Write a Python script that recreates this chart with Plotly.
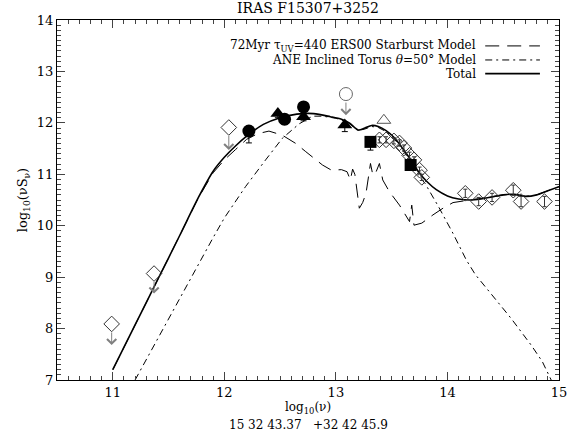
import plotly.graph_objects as go

# ---------------- data ----------------
total_x = [11.0, 11.2, 11.4, 11.6, 11.77, 11.9, 12.0, 12.1, 12.2, 12.35, 12.5, 12.65, 12.8,
           12.95, 13.05, 13.12, 13.2, 13.26, 13.32, 13.38, 13.45, 13.52, 13.6, 13.68, 13.75,
           13.82, 13.9, 14.0, 14.1, 14.2, 14.3, 14.4, 14.5, 14.6, 14.7, 14.8, 14.9, 15.0]
total_y = [7.2, 8.07, 8.94, 9.81, 10.56, 11.06, 11.33, 11.55, 11.74, 11.97, 12.1, 12.17, 12.18,
           12.12, 12.07, 12.0, 11.86, 11.9, 11.95, 11.93, 11.85, 11.72, 11.5, 11.25, 11.02,
           10.85, 10.7, 10.58, 10.52, 10.5, 10.52, 10.56, 10.6, 10.61, 10.57, 10.6, 10.68, 10.76]

sb_x = [11.0, 11.2, 11.4, 11.6, 11.77, 11.9, 12.0, 12.1, 12.2, 12.3, 12.4, 12.52, 12.64, 12.73,
        12.8, 12.88, 12.96, 13.05, 13.1, 13.13, 13.15, 13.17, 13.21, 13.24, 13.27, 13.31, 13.33,
        13.35, 13.39, 13.42, 13.48, 13.57, 13.66, 13.68, 13.70, 13.77, 13.87, 13.96, 14.05, 14.2,
        14.3, 14.4, 14.5, 14.6, 14.7, 14.8, 14.9, 15.0]
sb_y = [7.2, 8.07, 8.94, 9.81, 10.55, 11.03, 11.28, 11.48, 11.68, 11.79, 11.84, 11.76, 11.6, 11.44,
        11.32, 11.18, 11.08, 11.09, 11.05, 10.89, 11.1, 11.0, 10.34, 10.45, 10.63, 11.21, 11.0,
        10.99, 11.21, 10.89, 10.66, 10.4, 10.08, 10.4, 10.01, 10.05, 10.21, 10.34, 10.45, 10.5,
        10.52, 10.56, 10.6, 10.61, 10.57, 10.6, 10.68, 10.76]

torus_x = [11.2, 11.4, 11.6, 11.77, 11.9, 12.0, 12.19, 12.37, 12.52, 12.67, 12.79, 12.88, 13.0,
           13.1, 13.2, 13.26, 13.32, 13.38, 13.45, 13.52, 13.6, 13.68, 13.75, 13.8, 13.92, 14.05,
           14.17, 14.25, 14.4, 14.57, 14.75, 14.85, 14.93]
torus_y = [7.0, 7.8, 8.6, 9.27, 9.77, 10.15, 10.76, 11.28, 11.7, 11.98, 12.13, 12.13, 12.09,
           12.02, 11.85, 11.88, 11.93, 11.91, 11.83, 11.7, 11.47, 11.2, 10.95, 10.82, 10.37, 9.85,
           9.33, 9.05, 8.65, 8.2, 7.68, 7.36, 7.0]

circ_x = [12.22, 12.54, 12.71]
circ_y = [11.84, 12.07, 12.31]
circ_err = [0.23, 0.1, 0.1]

tri_x = [12.48, 12.71, 13.08]
tri_y = [12.18, 12.12, 11.96]
tri_err = [0.08, 0.08, 0.13]

sq_x = [13.31, 13.67]
sq_y = [11.63, 11.18]
sq_err = [0.16, 0.1]

otri_x = [13.43]
otri_y = [12.05]

dia_x = [13.39, 13.45, 13.52, 13.57, 13.61, 13.66, 13.70, 13.75, 13.77,
         14.16, 14.28, 14.40, 14.59, 14.66, 14.87]
dia_y = [11.67, 11.67, 11.65, 11.61, 11.51, 11.37, 11.28, 11.08, 10.94,
         10.63, 10.47, 10.55, 10.69, 10.47, 10.47]
dia_err = [0.06] * 9 + [0.08, 0.08, 0.08, 0.1, 0.1, 0.1]

ul_dia_x = [10.99, 11.37, 12.04]
ul_dia_y = [8.09, 9.07, 11.91]
ul_dia_to = [7.68, 8.68, 11.47]

ul_circ_x = [13.09]
ul_circ_y = [12.56]
ul_circ_to = [12.15]

x_ticks = [11, 12, 13, 14, 15]
y_ticks = [7, 8, 9, 10, 11, 12, 13, 14]

legend_labels = ["72Myr \u03c4<sub>UV</sub>=440 ERS00 Starburst Model",
                 "ANE Inclined Torus <i>\u03b8</i>=50\u00b0 Model",
                 "Total"]

FONT = "DejaVu Serif"

fig = go.Figure()

fig.add_trace(go.Scatter(x=sb_x, y=sb_y, mode="lines",
                         line=dict(color="black", width=1, dash="14px,8px"),
                         showlegend=False))
fig.add_trace(go.Scatter(x=torus_x, y=torus_y, mode="lines",
                         line=dict(color="black", width=1, dash="7px,4px,2px,4px"),
                         showlegend=False))
fig.add_trace(go.Scatter(x=total_x, y=total_y, mode="lines", line_shape="spline",
                         line=dict(color="black", width=1.6, smoothing=0.8), showlegend=False))

# open diamonds detections
fig.add_trace(go.Scatter(x=dia_x, y=dia_y, mode="markers",
                         marker=dict(symbol="diamond-open", size=12, color="#333333",
                                     line=dict(width=1)),
                         error_y=dict(type="data", array=dia_err, color="#333333",
                                      thickness=1, width=2),
                         showlegend=False))
# open triangles
fig.add_trace(go.Scatter(x=otri_x, y=otri_y, mode="markers",
                         marker=dict(symbol="triangle-up-open", size=12, color="#555555"),
                         showlegend=False))
# upper limit symbols
fig.add_trace(go.Scatter(x=ul_dia_x, y=ul_dia_y, mode="markers",
                         marker=dict(symbol="diamond-open", size=12, color="#333333"),
                         showlegend=False))
fig.add_trace(go.Scatter(x=ul_circ_x, y=ul_circ_y, mode="markers",
                         marker=dict(symbol="circle-open", size=13, color="#666666"),
                         showlegend=False))
# filled symbols
fig.add_trace(go.Scatter(x=sq_x, y=sq_y, mode="markers",
                         marker=dict(symbol="square", size=12, color="black"),
                         error_y=dict(type="data", symmetric=False, array=[0, 0],
                                      arrayminus=sq_err, color="black", thickness=1, width=3),
                         showlegend=False))
fig.add_trace(go.Scatter(x=tri_x, y=tri_y, mode="markers",
                         marker=dict(symbol="triangle-up", size=13, color="black"),
                         error_y=dict(type="data", symmetric=False, array=[0, 0, 0],
                                      arrayminus=tri_err, color="black", thickness=1, width=3),
                         showlegend=False))
fig.add_trace(go.Scatter(x=circ_x, y=circ_y, mode="markers",
                         marker=dict(symbol="circle", size=13, color="black"),
                         error_y=dict(type="data", symmetric=False, array=[0, 0, 0],
                                      arrayminus=circ_err, color="black", thickness=1, width=3),
                         showlegend=False))

annotations = []
for xs, ys, ts in ((ul_dia_x, ul_dia_y, ul_dia_to), (ul_circ_x, ul_circ_y, ul_circ_to)):
    for xv, yv, tv in zip(xs, ys, ts):
        annotations.append(dict(x=xv, y=tv, ax=xv, ay=yv, xref="x", yref="y",
                                axref="x", ayref="y", text="", showarrow=True,
                                arrowhead=4, arrowsize=1.8, arrowwidth=1,
                                arrowcolor="#808080", startstandoff=7))

# legend (text right aligned, sample line on right)
leg_y = [0.928, 0.889, 0.851]
leg_dash = ["14px,8px", "7px,4px,2px,4px", "solid"]
leg_w = [1, 1, 1.6]
shapes = []
for lab, yy, dsh, w in zip(legend_labels, leg_y, leg_dash, leg_w):
    annotations.append(dict(x=0.838, y=yy, xref="paper", yref="paper", text=lab,
                            showarrow=False, xanchor="right", yanchor="middle",
                            font=dict(family=FONT, size=12, color="black")))
    shapes.append(dict(type="line", xref="paper", yref="paper", x0=0.853, x1=0.962,
                       y0=yy, y1=yy, line=dict(color="black", width=w, dash=dsh)))

annotations.append(dict(x=0.5, y=-0.079, xref="paper", yref="paper",
                        text="log<sub>10</sub>(\u03bd)", borderpad=0,
                        showarrow=False, yanchor="middle",
                        font=dict(family=FONT, size=12, color="black")))
annotations.append(dict(x=0.5, y=-0.148, xref="paper", yref="paper",
                        text="15 32 43.37   +32 42 45.9", borderpad=0,
                        showarrow=False, yanchor="bottom",
                        font=dict(family=FONT, size=12, color="black")))

fig.update_layout(
    width=579, height=435,
    margin=dict(l=57, r=20, t=20, b=55, autoexpand=False),
    paper_bgcolor="white", plot_bgcolor="white",
    title=dict(text="IRAS F15307+3252", x=0.532, xanchor="center", y=0.993, yanchor="top",
               font=dict(family=FONT, size=14, color="black")),
    font=dict(family=FONT, size=13, color="black"),
    annotations=annotations, shapes=shapes,
    showlegend=False,
)
fig.update_xaxes(range=[10.5, 15], tickvals=x_ticks, ticktext=[str(v) for v in x_ticks],
                 ticks="inside", ticklen=8, tickwidth=1, tickcolor="#444",
                 minor=dict(dtick=0.1, ticks="inside", ticklen=4, tickcolor="#444"),
                 showline=True, linecolor="black", linewidth=1, mirror="allticks",
                 showgrid=False, zeroline=False, automargin=False,
                 tickfont=dict(family=FONT, size=13, color="black"))
fig.update_yaxes(range=[7, 14], tickvals=y_ticks, ticktext=[str(v) for v in y_ticks],
                 ticks="inside", ticklen=8, tickwidth=1, tickcolor="#444",
                 minor=dict(dtick=0.1, ticks="inside", ticklen=4, tickcolor="#444"),
                 showline=True, linecolor="black", linewidth=1, mirror="allticks",
                 showgrid=False, zeroline=False, automargin=False,
                 title=dict(text="log<sub>10</sub>(\u03bdS<sub>\u03bd</sub>)", standoff=6,
                            font=dict(family=FONT, size=13, color="black")),
                 tickfont=dict(family=FONT, size=13, color="black"))

fig.write_html("out.html", config={"displayModeBar": False},
               post_script="document.body.style.margin='0';document.body.style.overflow='hidden';")
